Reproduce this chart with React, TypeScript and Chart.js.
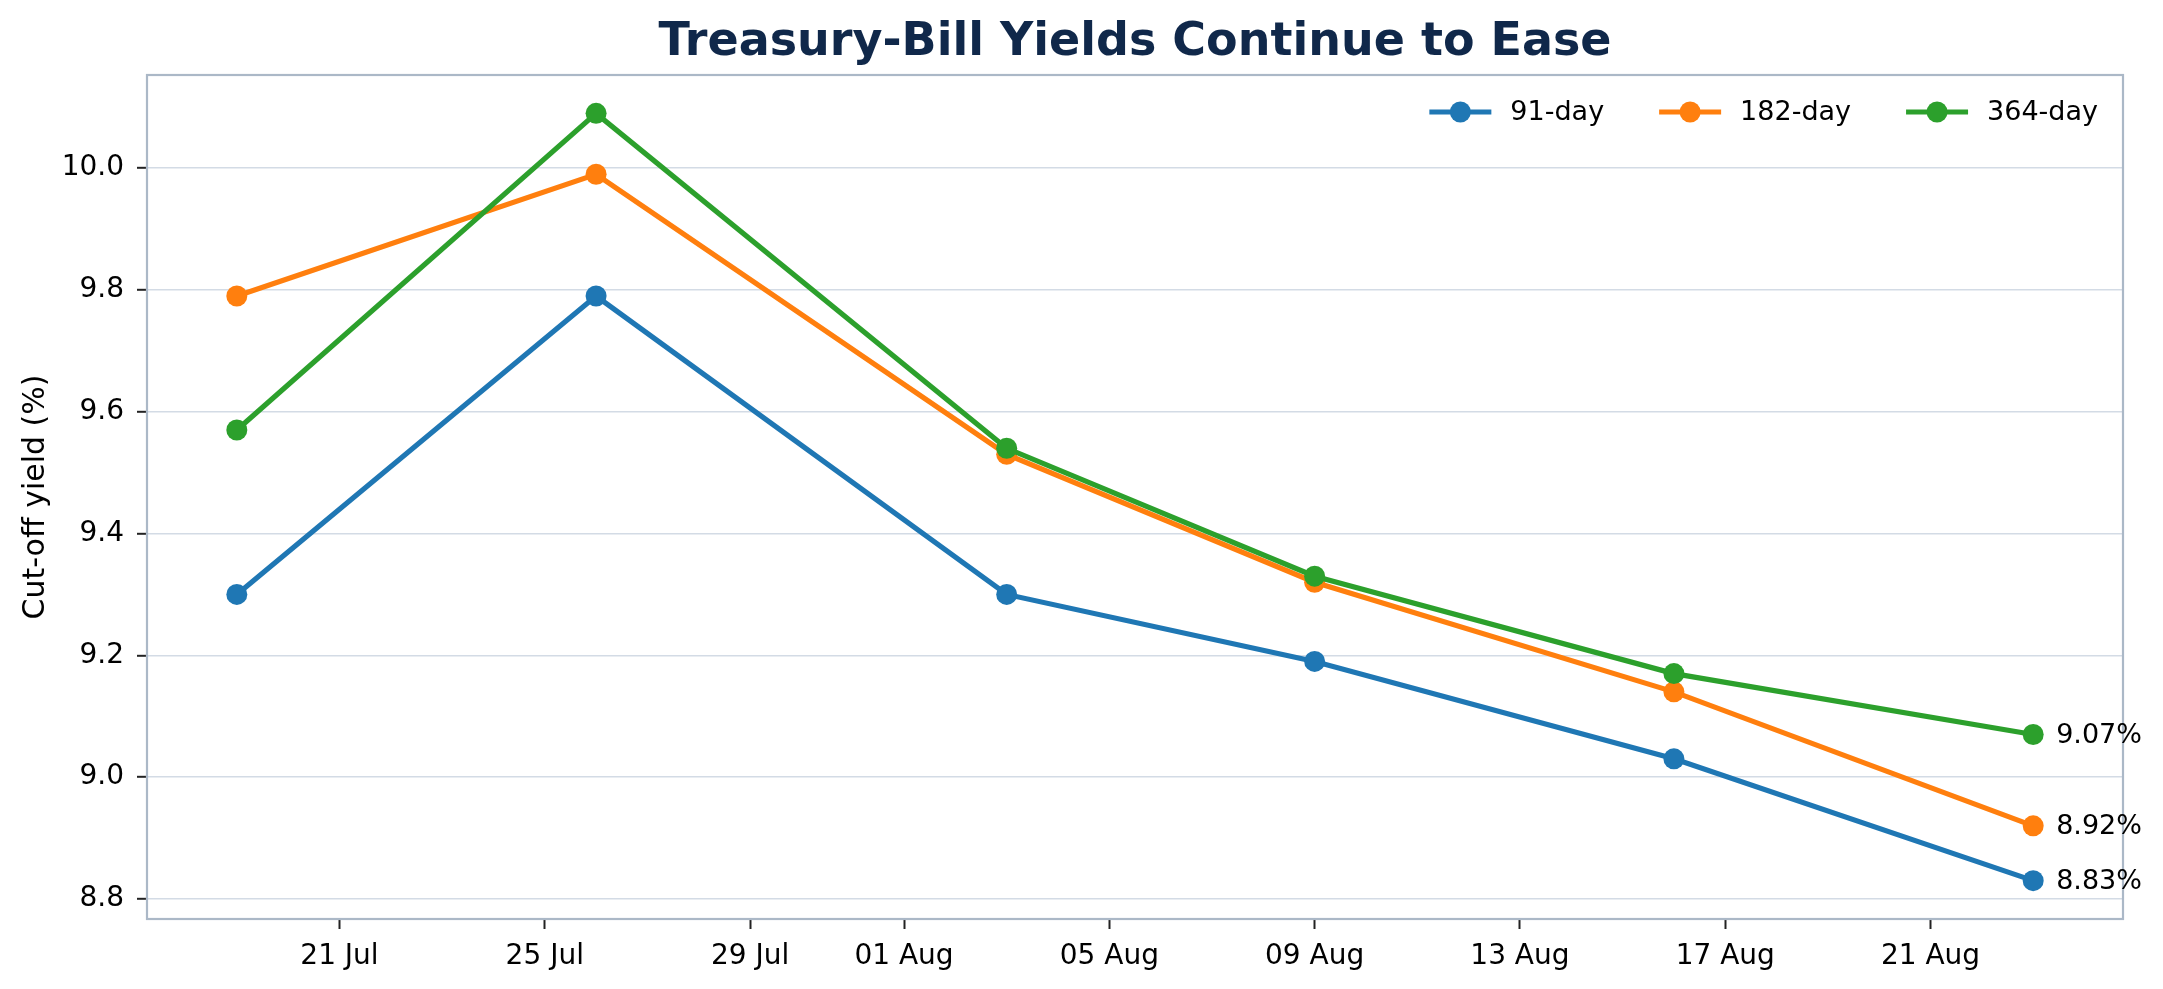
import { useEffect, useRef } from 'react'
import { Chart, registerables } from 'chart.js'

Chart.register(...registerables)

// day numbers counted from 30 Jun (1 = 01 Jul, 32 = 01 Aug)
const auctionDays = [19, 26, 34, 40, 47, 54]
const yield91 = [9.30, 9.79, 9.30, 9.19, 9.03, 8.83]
const yield182 = [9.79, 9.99, 9.53, 9.32, 9.14, 8.92]
const yield364 = [9.57, 10.09, 9.54, 9.33, 9.17, 9.07]
const seriesLabels = ['91-day', '182-day', '364-day']
const seriesColors = ['#1f77b4', '#ff7f0e', '#2ca02c']
const xTickDays = [21, 25, 29, 32, 36, 40, 44, 48, 52]
const xTickLabels = ['21 Jul', '25 Jul', '29 Jul', '01 Aug', '05 Aug', '09 Aug', '13 Aug', '17 Aug', '21 Aug']
const yTicks = [8.8, 9.0, 9.2, 9.4, 9.6, 9.8, 10.0]
const chartTitle = 'Treasury-Bill Yields Continue to Ease'
const yTitle = 'Cut-off yield (%)'

const FONT = "'DejaVu Sans', sans-serif"

const decorPlugin = {
  id: 'decor',
  beforeDraw(chart: any) {
    const { ctx, width, height } = chart
    ctx.save()
    ctx.fillStyle = '#ffffff'
    ctx.fillRect(0, 0, width, height)
    ctx.restore()
  },
  afterDraw(chart: any) {
    const { ctx, chartArea: a } = chart
    ctx.save()
    // spines
    ctx.strokeStyle = '#abb8c7'
    ctx.lineWidth = 2.2
    ctx.strokeRect(a.left, a.top, a.right - a.left, a.bottom - a.top)

    // title
    ctx.fillStyle = '#10284a'
    ctx.font = `bold 46px ${FONT}`
    ctx.textAlign = 'center'
    ctx.textBaseline = 'middle'
    ctx.fillText(chartTitle, (a.left + a.right) / 2, 43)

    // legend, top right inside the axes
    ctx.font = `27px ${FONT}`
    ctx.textAlign = 'left'
    const ly = 112
    let x = a.right - 25
    for (let i = seriesLabels.length - 1; i >= 0; i--) {
      const w = ctx.measureText(seriesLabels[i]).width
      const tx = x - w
      const lineEnd = tx - 19
      const lineStart = lineEnd - 62
      ctx.strokeStyle = seriesColors[i]
      ctx.lineWidth = 5.2
      ctx.beginPath()
      ctx.moveTo(lineStart, ly)
      ctx.lineTo(lineEnd, ly)
      ctx.stroke()
      ctx.fillStyle = seriesColors[i]
      ctx.beginPath()
      ctx.arc((lineStart + lineEnd) / 2, ly, 10.5, 0, Math.PI * 2)
      ctx.fill()
      ctx.fillStyle = '#000000'
      ctx.fillText(seriesLabels[i], tx, ly + 1)
      x = lineStart - 55
    }

    // end-of-line value labels
    chart.data.datasets.forEach((ds: any, i: number) => {
      const meta = chart.getDatasetMeta(i)
      const last = meta.data[meta.data.length - 1]
      const v = ds.data[ds.data.length - 1].y
      ctx.fillStyle = '#000000'
      ctx.fillText(`${v.toFixed(2)}%`, last.x + 23, last.y + 1)
    })
    ctx.restore()
  },
}

function series(values: number[], i: number, order: number) {
  return {
    label: seriesLabels[i],
    data: auctionDays.map((d, k) => ({ x: d, y: values[k] })),
    borderColor: seriesColors[i],
    backgroundColor: seriesColors[i],
    pointBackgroundColor: seriesColors[i],
    borderWidth: 5.2,
    pointRadius: 10.5,
    pointBorderWidth: 0,
    tension: 0,
    order,
  }
}

export default function App() {
  const canvasRef = useRef<HTMLCanvasElement>(null)
  const chartRef = useRef<any>(null)

  useEffect(() => {
    document.body.style.margin = '0'
    if (!canvasRef.current) return
    if (chartRef.current) chartRef.current.destroy()

    chartRef.current = new Chart(canvasRef.current, {
      type: 'line',
      data: {
        datasets: [series(yield91, 0, 2), series(yield182, 1, 1), series(yield364, 2, 0)],
      },
      plugins: [decorPlugin],
      options: {
        animation: false,
        responsive: true,
        maintainAspectRatio: false,
        devicePixelRatio: 1,
        layout: { padding: { top: 75, right: 40, left: 0, bottom: 0 } },
        plugins: {
          legend: { display: false },
          title: { display: false },
          tooltip: { enabled: false },
        },
        scales: {
          x: {
            type: 'linear',
            min: 17.25,
            max: 55.75,
            afterBuildTicks: (scale: any) => {
              scale.ticks = xTickDays.map(v => ({ value: v }))
            },
            afterFit: (scale: any) => {
              scale.height = 70
            },
            ticks: {
              autoSkip: false,
              maxRotation: 0,
              padding: 11,
              color: '#000000',
              font: { family: FONT, size: 28 },
              callback: (_v: any, i: number) => xTickLabels[i],
            },
            grid: { drawOnChartArea: false, tickLength: 10, tickColor: '#222222', tickWidth: 2 },
            border: { display: false },
          },
          y: {
            type: 'linear',
            min: 8.767,
            max: 10.153,
            afterBuildTicks: (scale: any) => {
              scale.ticks = yTicks.map(v => ({ value: v }))
            },
            afterFit: (scale: any) => {
              scale.width = 147
            },
            ticks: {
              padding: 13,
              color: '#000000',
              font: { family: FONT, size: 28 },
              callback: (v: any) => Number(v).toFixed(1),
            },
            grid: { color: '#d3dbe5', lineWidth: 1.6, tickLength: 10, tickColor: '#222222', tickWidth: 2 },
            border: { display: false },
            title: {
              display: true,
              text: yTitle,
              color: '#000000',
              font: { family: FONT, size: 30 },
              padding: { top: 18, bottom: 0 },
            },
          },
        },
      },
    })

    return () => {
      if (chartRef.current) chartRef.current.destroy()
    }
  }, [])

  return (
    <div style={{ width: 2163, height: 989, position: 'relative' }}>
      <canvas ref={canvasRef} />
    </div>
  )
}
